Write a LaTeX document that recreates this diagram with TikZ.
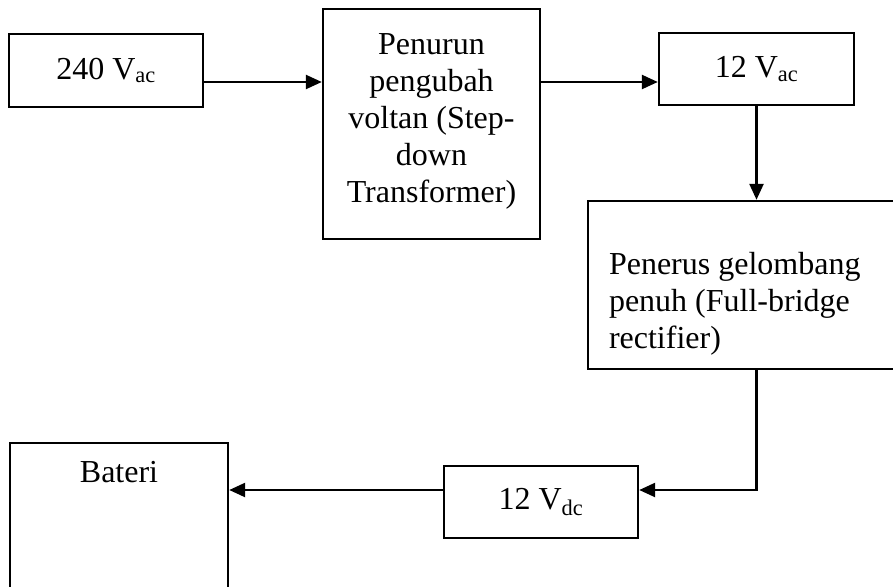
\documentclass[tikz,border=0pt]{standalone}
\usepackage{fontspec}
\setmainfont{Liberation Serif}
\usetikzlibrary{positioning,arrows.meta}

\begin{document}
\begin{tikzpicture}[
  x=1pt, y=-1pt,
  font=\fontsize{32}{37}\selectfont,
  flowblock/.style={
    rectangle,
    line width=2.4pt,
    draw=black,
    fill=white,
    inner sep=0em
  },
  flowline/.style={
    line width=2.4pt,
    -{Triangle[length=16pt,width=14pt]}
  }]
  \useasboundingbox (0,0) rectangle (893,586);
  \coordinate (toprow) at (0,82);
  \coordinate (botrow) at (0,490);

  \node[flowblock, minimum width=194pt, minimum height=73pt] (acin) at (106,70.5) {240 V\textsubscript{ac}};
  \node[flowblock, minimum width=217pt, minimum height=230pt,
    label={[align=center, inner sep=0pt, yshift=3pt]center:Penurun\\pengubah\\voltan (Step-\\down\\Transformer)}] (trafo) at (431.5,124) {};
  \node[flowblock, minimum width=195pt, minimum height=72pt] (acout) at (756.5,69) {12 V\textsubscript{ac}};
  \node[flowblock, minimum width=322pt, minimum height=168pt,
    label={[anchor=west, align=left, inner sep=0pt, xshift=22pt, yshift=-19pt]west:Penerus gelombang\\penuh (Full-bridge\\rectifier)}] (rect) at (749,285) {};
  \node[flowblock, minimum width=194pt, minimum height=72pt] (dcout) at (541,502) {12 V\textsubscript{dc}};
  \node[flowblock, minimum width=218pt, minimum height=157pt,
    label={[anchor=north, inner sep=0pt, yshift=-19pt]north:Bateri}] (bateri) at (119,521.5) {};

  % connectors
  \draw[flowline] (acin.east |- toprow) -- (trafo.west |- toprow);
  \draw[flowline] (trafo.east |- toprow) -- (acout.west |- toprow);
  \draw[flowline] (acout.south) -- (acout.south |- rect.north);
  \draw[flowline] (acout.south |- rect.south) |- (dcout.east |- botrow);
  \draw[flowline] (dcout.west |- botrow) -- (bateri.east |- botrow);
\end{tikzpicture}
\end{document}
